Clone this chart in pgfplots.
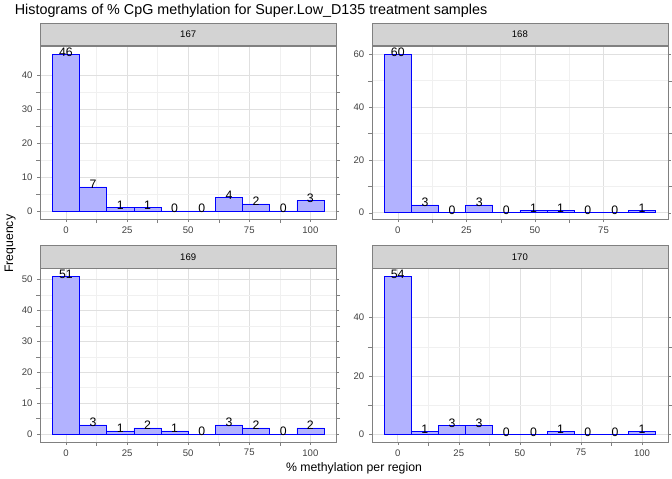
\documentclass[border=0pt]{standalone}
\usepackage{pgfplots}
\pgfplotsset{compat=1.18}
\usepgfplotslibrary{groupplots}
\usepackage{fontspec}
\setmainfont{Liberation Sans}
\definecolor{barfill}{HTML}{A2D0E2}
\definecolor{baredge}{HTML}{0000AA}
\definecolor{stripg}{HTML}{D3D3D3}
\begin{document}
\begin{tikzpicture}
\pgfplotsset{
  panel/.style={
    scale only axis, width=217pt, height=127pt,
    axis line style={draw=black!50},
    tick style={black!50}, tick align=outside, major tick length=2pt,
    grid=both, major grid style={black!12}, minor grid style={black!6},
    minor x tick num=1, minor y tick num=1,
    ticklabel style={font=\fontsize{7}{8}\selectfont, text=black!75},
    /pgf/number format/assume math mode=true,
    ybar, bar shift=0pt, ymin=-2.5,
    every axis plot/.append style={fill=barfill, draw=baredge},
    nodes near coords, every node near coord/.style={font=\fontsize{9}{10}\selectfont, text=black, yshift=-5pt},
    every axis title shift=0pt,
    title style={at={(0.5,1)}, anchor=south, fill=stripg, draw=black!50, minimum width=217pt, minimum height=16.5pt, inner sep=0pt, font=\fontsize{7}{8}\selectfont, yshift=0pt},
  }
}
\begin{groupplot}[group style={group size=2 by 2, horizontal sep=26pt, vertical sep=36pt}, panel]
\nextgroupplot[title={167}, xmin=-10.6, xmax=110.6, ymax=48.5, xtick={0,25,50,75,100}, ytick={0,10,20,30,40}, bar width=11.1]
\addplot coordinates {(0,46) (11.11,7) (22.22,1) (33.33,1) (44.44,0) (55.56,0) (66.67,4) (77.78,2) (88.89,0) (100,3)};
\nextgroupplot[title={168}, xmin=-9.5, xmax=98.5, ymax=63.2, xtick={0,25,50,75}, ytick={0,20,40,60}, bar width=9.89]
\addplot coordinates {(0,60) (9.89,3) (19.78,0) (29.67,3) (39.56,0) (49.44,1) (59.33,1) (69.22,0) (79.11,0) (89,1)};
\nextgroupplot[title={169}, xmin=-10.6, xmax=110.6, ymax=53.6, xtick={0,25,50,75,100}, ytick={0,10,20,30,40,50}, bar width=11.1]
\addplot coordinates {(0,51) (11.11,3) (22.22,1) (33.33,2) (44.44,1) (55.56,0) (66.67,3) (77.78,2) (88.89,0) (100,2)};
\nextgroupplot[title={170}, xmin=-10.6, xmax=110.6, ymax=56.8, xtick={0,25,50,75,100}, ytick={0,20,40}, bar width=11.1]
\addplot coordinates {(0,54) (11.11,1) (22.22,3) (33.33,3) (44.44,0) (55.56,0) (66.67,1) (77.78,0) (88.89,0) (100,1)};
\end{groupplot}
\node[font=\fontsize{10.5}{12}\selectfont, anchor=south west] at ([xshift=-22pt,yshift=17pt]group c1r1.north west) {Histograms of \% CpG methylation for Super.Low\_D135 treatment samples};
\node[font=\fontsize{9}{10}\selectfont, rotate=90] at ([xshift=-22pt,yshift=-18pt]group c1r1.south west) {Frequency};
\node[font=\fontsize{9}{10}\selectfont, anchor=north] at ([xshift=13pt,yshift=-12pt]group c1r2.south east) {\% methylation per region};
\end{tikzpicture}
\end{document}
